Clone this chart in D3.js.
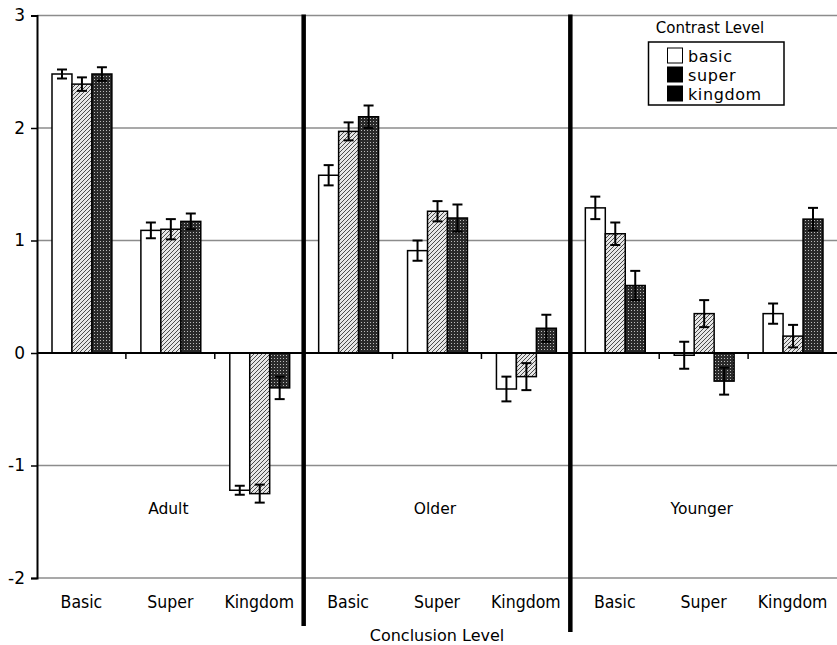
<!DOCTYPE html>
<html lang="en">
<head>
    <meta charset="UTF-8">
    <title>Contrast Level by Conclusion Level</title>
    <script src="https://d3js.org/d3.v7.min.js"></script>
    <style>
        body { margin: 0; background: #fff; }
        text { font-family: "DejaVu Sans", Verdana, sans-serif; fill: #000; }
    </style>
</head>
<body>
    <div id="chart"></div>

    <script>
        // groups and conclusion levels (x axis)
        const groups = ["Adult", "Older", "Younger"];
        const conclusions = ["Basic", "Super", "Kingdom"];
        const contrasts = ["basic", "super", "kingdom"];
        const yTicks = [-2, -1, 0, 1, 2, 3];

        // means, one per group x conclusion (Adult Basic, Adult Super, ...)
        const basicMeans   = [2.48, 1.09, -1.22, 1.58, 0.91, -0.32, 1.29, -0.02, 0.35];
        const superMeans   = [2.39, 1.10, -1.25, 1.97, 1.26, -0.21, 1.06, 0.35, 0.15];
        const kingdomMeans = [2.48, 1.17, -0.31, 2.10, 1.20, 0.22, 0.60, -0.25, 1.19];

        // standard errors
        const basicErr   = [0.04, 0.07, 0.04, 0.09, 0.09, 0.11, 0.10, 0.12, 0.09];
        const superErr   = [0.06, 0.09, 0.08, 0.08, 0.09, 0.12, 0.10, 0.12, 0.10];
        const kingdomErr = [0.06, 0.07, 0.10, 0.10, 0.12, 0.12, 0.13, 0.12, 0.10];

        const means = { basic: basicMeans, super: superMeans, kingdom: kingdomMeans };
        const errs = { basic: basicErr, super: superErr, kingdom: kingdomErr };

        const categories = [];
        groups.forEach(g => conclusions.forEach(c => categories.push(g + "|" + c)));

        const data = [];
        categories.forEach((cat, i) => {
            contrasts.forEach(k => data.push({ cat: cat, key: k, value: means[k][i], err: errs[k][i] }));
        });

        const width = 837, height = 645;
        const plotLeft = 37, plotRight = 837, plotTop = 15.5, plotBottom = 578;

        const svg = d3.select("#chart")
            .append("svg")
            .attr("width", width)
            .attr("height", height);

        // patterns for the bars
        const defs = svg.append("defs");
        const hatch = defs.append("pattern")
            .attr("id", "hatch")
            .attr("patternUnits", "userSpaceOnUse")
            .attr("width", 4).attr("height", 4);
        hatch.append("rect").attr("width", 4).attr("height", 4).attr("fill", "#e6e6e6");
        hatch.append("path")
            .attr("d", "M-1,1 l2,-2 M0,4 l4,-4 M3,5 l2,-2")
            .attr("stroke", "#3a3a3a").attr("stroke-width", 0.9);

        const dots = defs.append("pattern")
            .attr("id", "dots")
            .attr("patternUnits", "userSpaceOnUse")
            .attr("width", 3).attr("height", 3);
        dots.append("rect").attr("width", 3).attr("height", 3).attr("fill", "#2a2a2a");
        dots.append("rect").attr("x", 1).attr("y", 1).attr("width", 1).attr("height", 1).attr("fill", "#bbb");

        const fills = { basic: "#fff", super: "url(#hatch)", kingdom: "url(#dots)" };
        const legendFills = { basic: "#fff", super: "#000", kingdom: "#000" };

        // scales
        const x = d3.scaleBand().domain(categories).range([plotLeft, plotRight]).padding(0);
        const x1 = d3.scaleBand().domain(contrasts).range([15, x.bandwidth() - 14]).padding(0);
        const y = d3.scaleLinear().domain([-2, 3]).range([plotBottom, plotTop]);

        // gridlines
        svg.append("g")
            .selectAll("line")
            .data(yTicks.filter(d => d !== 0))
            .enter()
            .append("line")
            .attr("x1", plotLeft).attr("x2", plotRight)
            .attr("y1", d => y(d)).attr("y2", d => y(d))
            .attr("stroke", "#8c8c8c").attr("stroke-width", 1.6);

        // y axis
        const yAxis = svg.append("g")
            .attr("transform", `translate(${plotLeft}, 0)`)
            .call(d3.axisLeft(y).tickValues(yTicks).tickFormat(d => String(d)).tickSize(6).tickPadding(6));
        yAxis.select(".domain").attr("stroke", "#000").attr("stroke-width", 2);
        yAxis.selectAll(".tick line").attr("stroke", "#000").attr("stroke-width", 1.5);
        yAxis.selectAll(".tick text")
            .style("font-family", "'DejaVu Sans', Verdana, sans-serif")
            .style("font-size", "17px");

        // bars
        svg.append("g")
            .selectAll("rect")
            .data(data)
            .enter()
            .append("rect")
            .attr("x", d => x(d.cat) + x1(d.key))
            .attr("y", d => y(Math.max(0, d.value)))
            .attr("width", x1.bandwidth())
            .attr("height", d => Math.abs(y(d.value) - y(0)))
            .attr("fill", d => fills[d.key])
            .attr("stroke", "#000")
            .attr("stroke-width", 1.5);

        // error bars
        const eb = svg.append("g")
            .selectAll("g")
            .data(data)
            .enter()
            .append("g")
            .attr("stroke", "#000")
            .attr("stroke-width", 2);
        const cx = d => x(d.cat) + x1(d.key) + x1.bandwidth() / 2;
        eb.append("line")
            .attr("x1", cx).attr("x2", cx)
            .attr("y1", d => y(d.value + d.err)).attr("y2", d => y(d.value - d.err));
        eb.append("line")
            .attr("x1", d => cx(d) - 5).attr("x2", d => cx(d) + 5)
            .attr("y1", d => y(d.value + d.err)).attr("y2", d => y(d.value + d.err));
        eb.append("line")
            .attr("x1", d => cx(d) - 5).attr("x2", d => cx(d) + 5)
            .attr("y1", d => y(d.value - d.err)).attr("y2", d => y(d.value - d.err));

        // zero line with category ticks
        const xAxis = svg.append("g")
            .attr("transform", `translate(0, ${y(0)})`);
        xAxis.append("line")
            .attr("x1", plotLeft).attr("x2", plotRight)
            .attr("stroke", "#000").attr("stroke-width", 2);
        xAxis.selectAll(".tk")
            .data(categories.slice(1))
            .enter()
            .append("line")
            .attr("x1", d => x(d)).attr("x2", d => x(d))
            .attr("y1", 0).attr("y2", 6)
            .attr("stroke", "#000").attr("stroke-width", 1.5);

        // conclusion level labels
        svg.append("g")
            .selectAll("text")
            .data(categories)
            .enter()
            .append("text")
            .attr("x", d => x(d) + x.bandwidth() / 2)
            .attr("y", 608)
            .attr("text-anchor", "middle")
            .style("font-family", "'DejaVu Sans Condensed', 'DejaVu Sans', sans-serif")
            .style("font-size", "17.5px")
            .text(d => d.split("|")[1]);

        // group labels
        svg.append("g")
            .selectAll("text")
            .data(groups)
            .enter()
            .append("text")
            .attr("x", d => x(d + "|Super") + x.bandwidth() / 2 - 2)
            .attr("y", 514)
            .attr("text-anchor", "middle")
            .style("font-size", "15.5px")
            .text(d => d);

        // group dividers
        svg.append("g")
            .selectAll("line")
            .data([{ cat: groups[1] + "|Basic", end: 626 }, { cat: groups[2] + "|Basic", end: 632 }])
            .enter()
            .append("line")
            .attr("x1", d => x(d.cat)).attr("x2", d => x(d.cat))
            .attr("y1", plotTop - 1).attr("y2", d => d.end)
            .attr("stroke", "#000").attr("stroke-width", 4.5);

        svg.append("text")
            .attr("x", (plotLeft + plotRight) / 2)
            .attr("y", 641)
            .attr("text-anchor", "middle")
            .style("font-size", "16px")
            .text("Conclusion Level");

        // legend
        svg.append("text")
            .attr("x", 710).attr("y", 33)
            .attr("text-anchor", "middle")
            .style("font-size", "15px")
            .text("Contrast Level");

        svg.append("rect")
            .attr("x", 648.5).attr("y", 42)
            .attr("width", 135.5).attr("height", 63)
            .attr("fill", "#fff").attr("stroke", "#000").attr("stroke-width", 1.5);

        const leg = svg.append("g")
            .selectAll("g")
            .data(contrasts)
            .enter()
            .append("g")
            .attr("transform", (d, i) => `translate(667.5, ${48 + i * 19})`);
        leg.append("rect")
            .attr("width", 15).attr("height", 15)
            .attr("fill", d => legendFills[d])
            .attr("stroke", "#000").attr("stroke-width", 1);
        leg.append("text")
            .attr("x", 20.5).attr("y", 14)
            .style("font-size", "16px")
            .style("letter-spacing", "0.6px")
            .text(d => d);
    </script>
</body>
</html>
